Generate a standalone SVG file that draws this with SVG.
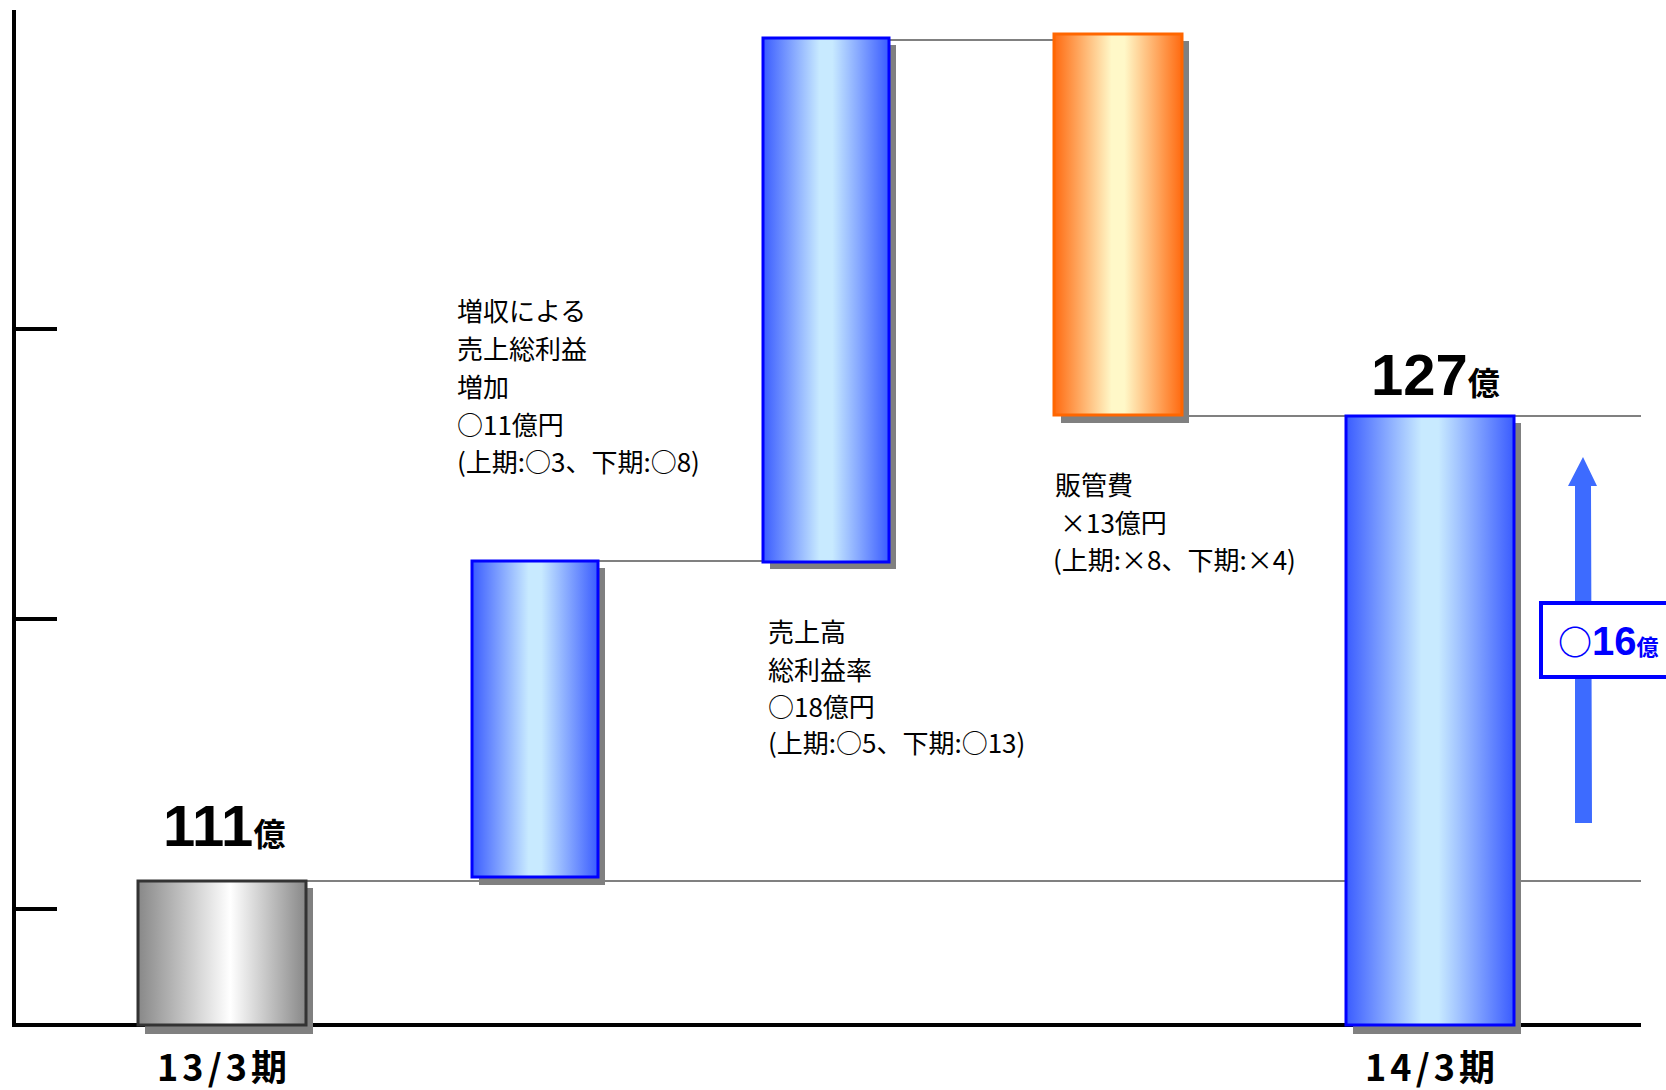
<svg xmlns="http://www.w3.org/2000/svg" width="1666" height="1090" viewBox="0 0 1666 1090">
<defs>
<linearGradient id="gBlue" x1="0" y1="0" x2="1" y2="0">
<stop offset="0" stop-color="#3a5cff"/>
<stop offset="0.45" stop-color="#c8eaff"/>
<stop offset="0.55" stop-color="#c8eaff"/>
<stop offset="1" stop-color="#3a5cff"/>
</linearGradient>
<linearGradient id="gGray" x1="0" y1="0" x2="1" y2="0">
<stop offset="0" stop-color="#888888"/>
<stop offset="0.55" stop-color="#ffffff"/>
<stop offset="1" stop-color="#888888"/>
</linearGradient>
<linearGradient id="gOrange" x1="0" y1="0" x2="1" y2="0">
<stop offset="0" stop-color="#ff6a10"/>
<stop offset="0.45" stop-color="#fff8c8"/>
<stop offset="0.55" stop-color="#fff8c8"/>
<stop offset="1" stop-color="#ff6a10"/>
</linearGradient>
<style>
.axis{stroke:#000;stroke-width:4;fill:none}
.conn{stroke:#808080;stroke-width:2;fill:none}
.shadow{fill:#808080}
.blue{fill:url(#gBlue);stroke:#0000ff;stroke-width:3}
.gray{fill:url(#gGray);stroke:#333333;stroke-width:3}
.orange{fill:url(#gOrange);stroke:#ff6600;stroke-width:3}
.lbl{font-family:"Noto Sans CJK JP","Noto Sans",sans-serif;font-size:26px;fill:#000}
.big{font-family:"Liberation Sans","Noto Sans CJK JP",sans-serif;font-weight:bold;fill:#000}
.cat{font-family:"Noto Sans CJK JP",sans-serif;font-weight:bold;font-size:36px;fill:#000}
</style>
</defs>
<g id="axes">
<line class="axis" x1="14" y1="10" x2="14" y2="1027"/>
<line class="axis" x1="12" y1="1025" x2="1641" y2="1025"/>
<line class="axis" x1="14" y1="329" x2="57" y2="329" stroke-width="3"/>
<line class="axis" x1="14" y1="619" x2="57" y2="619" stroke-width="3"/>
<line class="axis" x1="14" y1="909" x2="57" y2="909" stroke-width="3"/>
</g>
<g id="connectors">
<line class="conn" x1="306" y1="881" x2="1641" y2="881"/>
<line class="conn" x1="597" y1="561" x2="763" y2="561"/>
<line class="conn" x1="888" y1="40" x2="1054" y2="40"/>
<line class="conn" x1="1182" y1="416" x2="1641" y2="416"/>
</g>
<g id="bar-1303">
<rect class="shadow" x="145" y="888" width="168" height="146"/>
<rect class="gray" x="138" y="881" width="168" height="144"/>
<text class="big" x="163" y="846" font-size="58">111<tspan font-size="32" font-family="Noto Sans CJK JP">億</tspan></text>
<text class="cat" x="157" y="1081" textLength="130" lengthAdjust="spacing">13/3期</text>
</g>
<g id="bar-zoushu">
<rect class="shadow" x="479" y="568" width="126" height="317"/>
<rect class="blue" x="472" y="561" width="126" height="316"/>
</g>
<g id="bar-rieki">
<rect class="shadow" x="770" y="45" width="126" height="524"/>
<rect class="blue" x="763" y="38" width="126" height="524"/>
</g>
<g id="bar-hankan">
<rect class="shadow" x="1061" y="41" width="128" height="382"/>
<rect class="orange" x="1054" y="34" width="128" height="381"/>
</g>
<g id="bar-1403">
<rect class="shadow" x="1353" y="423" width="168" height="611"/>
<rect class="blue" x="1346" y="416" width="168" height="609"/>
<text class="big" x="1371" y="395" font-size="58">127<tspan font-size="32" font-family="Noto Sans CJK JP">億</tspan></text>
<text class="cat" x="1365" y="1081" textLength="130" lengthAdjust="spacing">14/3期</text>
</g>
<g id="label-zoushu">
<text class="lbl" x="457" y="321">増収による</text>
<text class="lbl" x="457" y="359">売上総利益</text>
<text class="lbl" x="457" y="397">増加</text>
<text class="lbl" x="457" y="435">○11億円</text>
<text class="lbl" x="457" y="472">(上期:○3、下期:○8)</text>
</g>
<g id="label-rieki">
<text class="lbl" x="768" y="642">売上高</text>
<text class="lbl" x="768" y="680">総利益率</text>
<text class="lbl" x="768" y="717">○18億円</text>
<text class="lbl" x="768" y="753">(上期:○5、下期:○13)</text>
</g>
<g id="label-hankan">
<text class="lbl" x="1055" y="495">販管費</text>
<text class="lbl" x="1060" y="533">×13億円</text>
<text class="lbl" x="1053" y="570">(上期:×8、下期:×4)</text>
</g>
<g id="arrow-up">
<polygon points="1575,823 1592,823 1591,486 1597,486 1583,457 1568,486 1575,486" fill="#3d6bff"/>
</g>
<g id="box-diff">
<rect x="1541" y="603" width="130" height="74" fill="#ffffff" stroke="#0000ff" stroke-width="4"/>
<text x="1558" y="655" font-family="Noto Sans CJK JP,sans-serif" font-weight="bold" font-size="34" fill="#0000ff">○<tspan font-family="Liberation Sans,sans-serif" font-size="40">16</tspan><tspan font-size="22">億</tspan></text>
</g>
</svg>
